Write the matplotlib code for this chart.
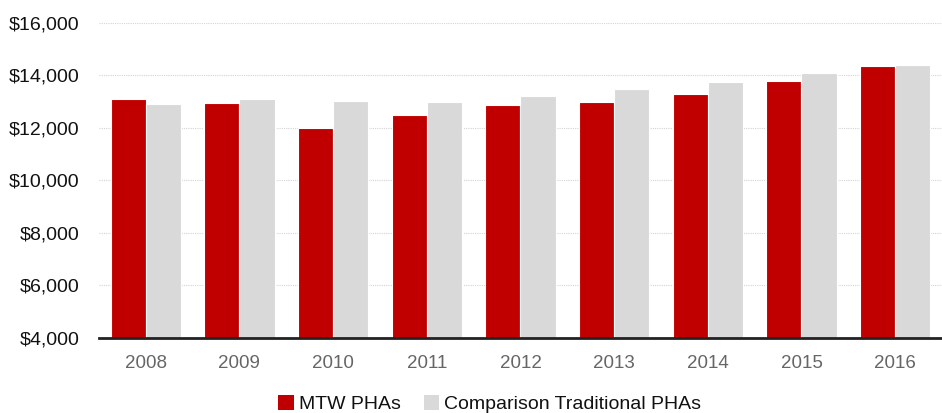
import matplotlib
matplotlib.use("Agg")
import matplotlib.pyplot as plt
import numpy as np
from matplotlib.ticker import FuncFormatter

years = ["2008", "2009", "2010", "2011", "2012", "2013", "2014", "2015", "2016"]
mtw = [13090, 12960, 12010, 12480, 12860, 13000, 13280, 13790, 14350]
comparison = [12910, 13120, 13040, 13000, 13220, 13470, 13740, 14080, 14390]
yticks = [4000, 6000, 8000, 10000, 12000, 14000, 16000]

plt.rcParams['font.family'] = ['Liberation Sans', 'DejaVu Sans']

fig = plt.figure(figsize=(9.42, 4.13), dpi=100)
ax = fig.add_axes([0.105, 0.1816, 0.895, 0.7628])

x = np.arange(len(years))
w = 0.375
ax.bar(x - w/2, mtw, width=w, color="#c00000", edgecolor="white", linewidth=0.8,
       label="MTW PHAs", zorder=3)
ax.bar(x + w/2, comparison, width=w, color="#d9d9d9", edgecolor="white", linewidth=0.8,
       label="Comparison Traditional PHAs", zorder=3)

ax.set_xlim(-0.5, len(years) - 0.5)
ax.set_ylim(4000, 16000)
ax.set_yticks(yticks)
ax.yaxis.set_major_formatter(FuncFormatter(lambda v, p: f"${v:,.0f}"))
ax.set_xticks(x)
ax.set_xticklabels(years)

ax.grid(axis="y", color="#d4d4d4", linestyle=(0, (1, 1)), linewidth=0.8, zorder=0)
ax.set_axisbelow(True)
for s in ["top", "right", "left"]:
    ax.spines[s].set_visible(False)
ax.spines["bottom"].set_color("#222222")
ax.spines["bottom"].set_linewidth(2)
ax.spines["bottom"].set_zorder(4)

ax.tick_params(axis="y", length=0, pad=14, labelsize=14, labelcolor="#111111")
ax.tick_params(axis="x", length=0, pad=12, labelsize=13.5, labelcolor="#666666")

leg = fig.legend(loc="center", bbox_to_anchor=(0.52, 0.022), ncol=2, frameon=False,
                 fontsize=14, handlelength=0.8, handleheight=0.8, handletextpad=0.25,
                 columnspacing=1.2)
for t in leg.get_texts():
    t.set_color("#111111")
for h in leg.legend_handles:
    h.set_edgecolor("none")

fig.savefig("out.png", dpi=100)
